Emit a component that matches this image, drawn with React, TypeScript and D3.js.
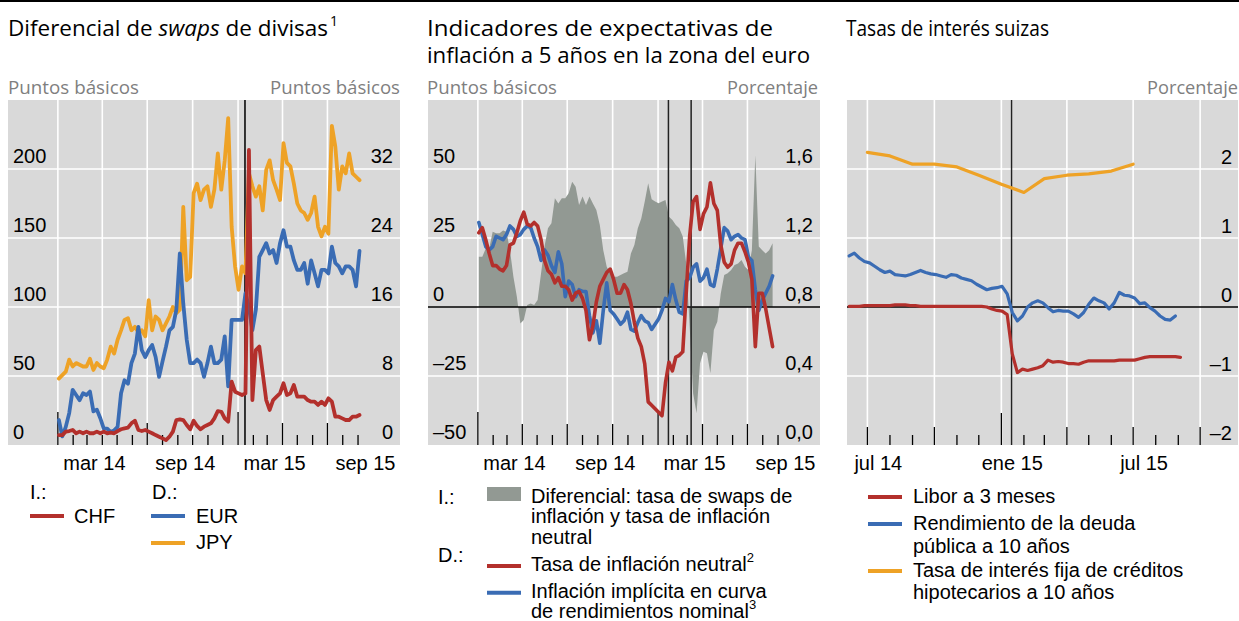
import React from "react";
import * as d3 from "d3";

const parse = (s: string) => d3.utcParse("%Y-%m-%d")(s) as Date;

// ---------------- Panel 1: currency swap differentials (weekly) ----------------
const swapStart = "2014-01-03";
// CHF, basis points, left axis
const chfValues = [
  7.2, 7.2, 9.7, 10.1, 10.9, 8.5, 9.7, 8.5, 9.7, 8.5,
  8.5, 9.7, 8.5, 9.7, 8.5, 8.9, 8.5, 10.1, 11.4, 12.1,
  12.6, 15.7, 17.6, 10.9, 10.1, 10.9, 9.7, 8.5, 7.2, 6.0,
  4.8, 3.6, 6.0, 9.7, 18.1, 18.6, 18.1, 14.5, 11.4, 17.6,
  13.8, 11.4, 13.3, 14.5, 15.7, 19.3, 24.6, 24.1, 19.3, 16.9,
  45.9, 38.6, 37.4, 36.2, 37.4, 213.8, 32.6, 68.8, 71.3, 51.9,
  32.6, 25.4, 32.6, 35.0, 37.4, 44.7, 36.2, 37.4, 43.5, 35.0,
  35.0, 35.0, 32.6, 31.4, 31.4, 29.0, 31.4, 29.0, 33.8, 31.4,
  20.5, 20.5, 19.3, 18.1, 18.1, 20.5, 20.5, 21.7,
];
// EUR, basis points, right axis
const eurValues = [
  2.9, 1.0, 2.1, 3.7, 6.4, 5.8, 5.2, 6.0, 5.8, 6.2,
  3.9, 4.1, 3.1, 1.9, 1.9, 1.5, 1.7, 2.1, 6.0, 7.5,
  7.1, 9.5, 10.6, 13.7, 11.0, 10.2, 11.0, 11.6, 10.2, 7.9,
  9.7, 11.4, 13.3, 13.7, 15.7, 22.2, 16.4, 12.2, 9.5, 9.5,
  9.9, 9.5, 7.9, 9.5, 11.4, 9.5, 9.5, 9.9, 12.6, 6.8,
  14.5, 14.5, 14.5, 14.5, 17.6, 16.0, 13.3, 15.7, 21.8, 22.6,
  23.4, 22.2, 22.6, 21.1, 23.4, 24.9, 23.0, 23.0, 21.4, 20.3,
  20.3, 21.1, 18.7, 21.4, 19.9, 18.4, 20.3, 20.3, 19.9, 23.0,
  21.1, 20.7, 19.9, 20.7, 20.7, 20.3, 18.4, 22.5,
];
// JPY, basis points, right axis
const jpyValues = [
  7.7, 8.1, 8.5, 9.9, 9.1, 9.5, 9.3, 9.1, 9.1, 10.0,
  8.7, 9.5, 9.1, 8.9, 9.9, 11.4, 10.6, 12.2, 13.3, 14.5,
  14.7, 13.3, 13.7, 13.1, 13.3, 12.6, 16.8, 13.3, 14.9, 14.5,
  13.3, 14.1, 14.9, 16.0, 15.3, 15.7, 27.6, 19.1, 19.5, 29.2,
  30.3, 28.4, 29.6, 30.0, 27.6, 29.6, 33.8, 29.6, 33.0, 37.9,
  25.3, 20.7, 18.0, 20.7, 19.9, 31.5, 30.0, 28.8, 30.0, 27.2,
  31.9, 33.0, 30.7, 29.6, 28.4, 35.0, 32.7, 32.3, 30.3, 28.0,
  27.2, 26.9, 26.1, 26.9, 28.8, 25.3, 24.2, 25.3, 24.5, 37.0,
  34.6, 29.6, 32.3, 31.5, 33.8, 31.5, 31.1, 30.7,
];
const p1LeftTicks = [0, 50, 100, 150, 200];
const p1RightTicks = [0, 8, 16, 24, 32];
const p1Event = "2015-01-15";

// ---------------- Panel 2: euro area 5y inflation expectations (weekly) ----------------
const inflStart = "2014-01-03";
// spread, basis points, left axis
const spreadValues = [
  18.2, 18.2, 21.2, 21.2, 27.3, 26.7, 26.7, 27.7, 27.3, 20.6,
  11.0, 3.7, -6.0, -4.7, 0.7, 1.3, 0.7, 2.5, 12.2, 21.9,
  28.5, 30.3, 39.4, 37.5, 39.4, 39.4, 41.2, 45.4, 43.6, 37.0,
  40.0, 37.0, 40.0, 37.5, 35.1, 29.7, 20.6, 14.6, 12.2, 11.0,
  11.0, 11.6, 12.2, 12.8, 19.4, 22.5, 28.5, 32.1, 38.2, 44.8,
  39.0, 38.2, 37.6, 38.2, 38.8, 32.7, 31.5, 29.7, 28.5, 25.5,
  15.8, -7.1, -31.3, -38.5, -20.4, -16.2, -16.8, -24.0, -8.3, -5.3,
  4.9, 11.6, 12.2, 13.4, 15.2, 15.8, 17.0, 14.6, 13.4, 20.6,
  55.0, 21.9, 20.6, 19.4, 20.6, 23.1,
];
// break-even inflation rate, percent, right axis
const neutralValues = [
  1.23, 1.26, 1.19, 1.11, 1.04, 1.04, 1.02, 1.01, 1.04, 1.16,
  1.17, 1.23, 1.30, 1.35, 1.28, 1.27, 1.29, 1.27, 1.19, 1.07,
  1.01, 0.99, 0.94, 0.97, 0.92, 0.92, 0.90, 0.84, 0.88, 0.89,
  0.85, 0.78, 0.61, 0.69, 0.83, 0.92, 0.96, 1.00, 1.02, 0.96,
  0.88, 0.88, 0.93, 0.90, 0.82, 0.71, 0.62, 0.57, 0.47, 0.25,
  0.23, 0.21, 0.19, 0.17, 0.36, 0.48, 0.43, 0.51, 0.52, 0.54,
  0.88, 1.21, 1.41, 1.44, 1.25, 1.34, 1.38, 1.52, 1.40, 1.36,
  1.16, 1.06, 1.03, 1.05, 1.13, 1.17, 1.17, 1.12, 1.06, 0.96,
  0.57, 0.88, 0.88, 0.79, 0.68, 0.57,
];
// implied inflation in nominal yield curve, percent, right axis
const impliedValues = [
  1.29, 1.22, 1.15, 1.13, 1.15, 1.21, 1.20, 1.19, 1.22, 1.27,
  1.25, 1.21, 1.22, 1.25, 1.27, 1.26, 1.20, 1.15, 1.07, 1.13,
  1.10, 1.04, 1.00, 1.12, 1.05, 0.86, 0.95, 0.93, 0.86, 0.90,
  0.89, 0.89, 0.75, 0.65, 0.72, 0.59, 0.78, 0.94, 0.78, 0.76,
  0.73, 0.70, 0.72, 0.77, 0.67, 0.66, 0.71, 0.75, 0.72, 0.71,
  0.67, 0.70, 0.73, 0.78, 0.85, 0.83, 0.93, 0.84, 0.77, 0.76,
  0.95, 0.97, 1.03, 1.05, 0.95, 0.97, 1.02, 0.93, 0.92, 1.02,
  1.14, 1.26, 1.24, 1.19, 1.21, 1.22, 1.20, 1.19, 1.09, 1.07,
  0.90, 0.78, 0.84, 0.88, 0.92, 0.98,
];
const p2LeftTicks = [-50, -25, 0, 25, 50];
const p2RightTicks = [0, 0.4, 0.8, 1.2, 1.6];
const p2Events = ["2015-01-22", "2015-03-09"];

// ---------------- Panel 3: Swiss interest rates ----------------
const swissStart = "2014-06-06";
const liborValues = [
  0.01, 0.01, 0.01, 0.02, 0.02, 0.02, 0.02, 0.02, 0.02, 0.03,
  0.03, 0.03, 0.02, 0.02, 0.01, 0.01, 0.01, 0.01, 0.01, 0.01,
  0.01, 0.01, 0.01, 0.01, 0.01, 0.01, 0.01, 0.00, -0.03, -0.05,
  -0.06, -0.11, -0.68, -0.95, -0.90, -0.92, -0.90, -0.88, -0.85, -0.77,
  -0.80, -0.79, -0.80, -0.82, -0.82, -0.83, -0.80, -0.78, -0.78, -0.78,
  -0.78, -0.78, -0.78, -0.77, -0.77, -0.77, -0.77, -0.75, -0.73, -0.72,
  -0.72, -0.72, -0.72, -0.72, -0.72, -0.73,
];
const yieldValues = [
  0.74, 0.78, 0.71, 0.66, 0.64, 0.59, 0.54, 0.50, 0.52, 0.47,
  0.46, 0.45, 0.47, 0.50, 0.53, 0.50, 0.48, 0.47, 0.45, 0.43,
  0.47, 0.46, 0.42, 0.40, 0.38, 0.33, 0.29, 0.25, 0.27, 0.28,
  0.30, 0.19, -0.08, -0.20, -0.13, 0.00, 0.06, 0.09, 0.06, -0.01,
  -0.07, -0.05, -0.06, -0.06, -0.10, -0.15, -0.08, 0.04, 0.13, 0.09,
  0.06, -0.03, 0.06, 0.21, 0.17, 0.16, 0.13, 0.05, 0.06, -0.01,
  -0.06, -0.13, -0.18, -0.19, -0.13,
];
const mortgageDates = [
  "2014-07-01", "2014-08-01", "2014-09-01", "2014-10-01", "2014-11-01", "2014-12-01",
  "2015-01-01", "2015-02-01", "2015-03-01", "2015-04-01", "2015-05-01", "2015-06-01", "2015-07-01",
];
const mortgageValues = [2.24, 2.19, 2.07, 2.07, 2.03, 1.91, 1.78, 1.66, 1.86, 1.91, 1.93, 1.97, 2.07];
const p3Ticks = [-2, -1, 0, 1, 2];
const p3Event = "2015-01-15";

const p12Labels = ["mar 14", "sep 14", "mar 15", "sep 15"];
const p12LabelDates = ["2014-03-16", "2014-09-16", "2015-03-16", "2015-09-16"];
const p3Labels = ["jul 14", "ene 15", "jul 15"];
const p3LabelDates = ["2014-07-16", "2015-01-16", "2015-07-16"];

// ---------------- styling ----------------
const RED = "#b3302c";
const BLUE = "#3a6cb4";
const ORANGE = "#eea226";
const GREY_AREA = "#929993";
const BG = "#d9d9d9";
const LABEL_GREY = "#7f7f7f";
const FONT = "'Liberation Sans', Arial, sans-serif";
const TFONT = "'Open Sans', sans-serif";

const TOP = 100;
const BOT = 445;

type Pt = { d: Date; v: number };
const weekly = (start: string, vals: number[]): Pt[] =>
  vals.map((v, i) => ({ d: d3.utcDay.offset(parse(start), 7 * i), v }));

const fmtComma = (v: number) => v.toFixed(1).replace(".", ",");
const fmtMinus = (v: number) => (v < 0 ? "\u2013" + Math.abs(v) : String(v));

export default function App() {
  const x12Domain = [parse("2013-09-22"), parse("2015-11-25")];
  const x1 = d3.scaleUtc().domain(x12Domain).range([8, 400]);
  const x2 = d3.scaleUtc().domain(x12Domain).range([428, 820]);
  const x3 = d3.scaleUtc().domain([parse("2014-06-03"), parse("2015-11-22")]).range([847, 1238]);

  const y1L = d3.scaleLinear().domain([0, 250]).range([BOT, TOP]);
  const y1R = d3.scaleLinear().domain([0, 40]).range([BOT, TOP]);
  const y2L = d3.scaleLinear().domain([-50, 75]).range([BOT, TOP]);
  const y2R = d3.scaleLinear().domain([0, 2]).range([BOT, TOP]);
  const y3 = d3.scaleLinear().domain([-2, 3]).range([BOT, TOP]);

  const mkLine = (x: any, y: any) =>
    d3.line<Pt>().x((p) => x(p.d)).y((p) => y(p.v));

  const chf = weekly(swapStart, chfValues);
  const eur = weekly(swapStart, eurValues);
  const jpy = weekly(swapStart, jpyValues);
  const spread = weekly(inflStart, spreadValues);
  const neutral = weekly(inflStart, neutralValues);
  const implied = weekly(inflStart, impliedValues);
  const libor = weekly(swissStart, liborValues);
  const yld = weekly(swissStart, yieldValues);
  const mortgage: Pt[] = mortgageDates.map((s, i) => ({ d: parse(s), v: mortgageValues[i] }));

  const area2 = d3
    .area<Pt>()
    .x((p) => x2(p.d))
    .y0(() => y2L(0))
    .y1((p) => y2L(p.v));

  const months12 = d3.utcMonth.range(parse("2014-01-01"), parse("2015-09-02"));
  const grid12 = d3.utcMonth.every(3)!.range(parse("2014-01-01"), parse("2015-07-02"));
  const months3 = d3.utcMonth.range(parse("2014-07-01"), parse("2015-10-02"));
  const grid3 = d3.utcMonth.every(3)!.range(parse("2014-07-01"), parse("2015-10-02"));

  const tickLen1 = (d: Date) => {
    const m = d.getUTCMonth();
    if (m === 0) return 33;
    if (m === 6 || (m === 3 && d.getUTCFullYear() === 2015)) return 22;
    return 10;
  };
  const tickLen2 = (d: Date) => {
    const m = d.getUTCMonth();
    if (m === 0) return 33;
    if (m % 3 === 0) return 21;
    return 10;
  };
  const tickLen3 = (d: Date) => {
    const m = d.getUTCMonth();
    if (m === 0) return 32;
    if (m % 3 === 0) return 18;
    return 10;
  };

  const bgRect = (x0: number, x1v: number) => (
    <rect x={x0} y={TOP} width={x1v - x0} height={BOT - TOP} fill={BG} />
  );

  const hGrid = (x0: number, x1v: number, ys: number[]) =>
    ys.map((yy, i) => (
      <line key={"hg" + i} x1={x0} x2={x1v} y1={yy} y2={yy} stroke="#fff" strokeWidth={1.6} />
    ));
  const vGrid = (xs: number[]) =>
    xs.map((xx, i) => (
      <line key={"vg" + i} x1={xx} x2={xx} y1={TOP} y2={BOT} stroke="#fff" strokeWidth={1.6} />
    ));
  const ticks = (xs: Date[], x: any, len: (d: Date) => number) =>
    xs.map((d, i) => (
      <line key={"t" + i} x1={x(d)} x2={x(d)} y1={BOT} y2={BOT - len(d)} stroke="#000" strokeWidth={1.3} />
    ));

  const lineProps = { fill: "none", strokeLinejoin: "round" as const, strokeLinecap: "round" as const };

  const swatch = (x: number, y: number, color: string) => (
    <line x1={x} x2={x + 34} y1={y} y2={y} stroke={color} strokeWidth={4} />
  );

  return (
    <svg
      width={1239}
      height={621}
      style={{ position: "absolute", left: 0, top: 0, background: "#fff" }}
      fontFamily={FONT}
    >
      <rect x={0} y={0} width={1239} height={621} fill="#fff" />
      <line x1={0} x2={1239} y1={1} y2={1} stroke="#000" strokeWidth={2} />

      {/* ---------------- Titles ---------------- */}
      <g fontFamily={TFONT} fontSize={22} fill="#000">
        <text x={8} y={36} textLength={320} lengthAdjust="spacingAndGlyphs">
          Diferencial de <tspan fontStyle="italic">swaps</tspan> de divisas
        </text>
        <text x={330} y={26} fontSize={14}>1</text>
        <text x={427} y={36} textLength={346} lengthAdjust="spacingAndGlyphs">
          Indicadores de expectativas de
        </text>
        <text x={427} y={63} textLength={383} lengthAdjust="spacingAndGlyphs">
          inflación a 5 años en la zona del euro
        </text>
        <text x={846} y={36} textLength={203} lengthAdjust="spacingAndGlyphs">
          Tasas de interés suizas
        </text>
      </g>
      <g fontFamily={TFONT} fontSize={18} fill={LABEL_GREY}>
        <text x={8} y={94} textLength={131} lengthAdjust="spacingAndGlyphs">Puntos básicos</text>
        <text x={270} y={94} textLength={130} lengthAdjust="spacingAndGlyphs">Puntos básicos</text>
        <text x={427} y={94} textLength={130} lengthAdjust="spacingAndGlyphs">Puntos básicos</text>
        <text x={727} y={94} textLength={91} lengthAdjust="spacingAndGlyphs">Porcentaje</text>
        <text x={1147} y={94} textLength={91} lengthAdjust="spacingAndGlyphs">Porcentaje</text>
      </g>

      {/* ---------------- Panel 1 ---------------- */}
      <g>
        {bgRect(8, 400)}
        {hGrid(8, 400, p1LeftTicks.filter((t) => t > 0).map((t) => y1L(t)))}
        {vGrid(grid12.map((d) => x1(d)))}
        {ticks(months12, x1, tickLen1)}
        <line x1={x1(parse(p1Event))} x2={x1(parse(p1Event))} y1={TOP} y2={BOT} stroke="#222" strokeWidth={1.8} />
        <path d={mkLine(x1, y1R)(jpy)!} stroke={ORANGE} strokeWidth={3.8} {...lineProps} />
        <path d={mkLine(x1, y1R)(eur)!} stroke={BLUE} strokeWidth={3.8} {...lineProps} />
        <path d={mkLine(x1, y1L)(chf)!} stroke={RED} strokeWidth={3.8} {...lineProps} />
        <g fontSize={20} fill="#000">
          {p1LeftTicks.map((t, i) => (
            <text key={"l" + i} x={13} y={y1L(t) - 6.5}>{t}</text>
          ))}
          {p1RightTicks.map((t, i) => (
            <text key={"r" + i} x={393} y={y1R(t) - 6.5} textAnchor="end">{t}</text>
          ))}
          {p12Labels.map((s, i) => (
            <text key={"x" + i} x={x1(parse(p12LabelDates[i]))} y={470} textAnchor="middle">{s}</text>
          ))}
        </g>
      </g>

      {/* ---------------- Panel 2 ---------------- */}
      <g>
        {bgRect(428, 820)}
        {hGrid(428, 820, p2LeftTicks.filter((t) => t !== 0 && t !== -50).map((t) => y2L(t)))}
        {vGrid(grid12.map((d) => x2(d)))}
        <path d={area2(spread)!} fill={GREY_AREA} />
        {ticks(months12, x2, tickLen2)}
        <line x1={428} x2={820} y1={y2L(0)} y2={y2L(0)} stroke="#000" strokeWidth={1.4} />
        {p2Events.map((s, i) => (
          <line key={"ev" + i} x1={x2(parse(s))} x2={x2(parse(s))} y1={TOP} y2={BOT} stroke="#222" strokeWidth={1.5} />
        ))}
        <path d={mkLine(x2, y2R)(implied)!} stroke={BLUE} strokeWidth={3.6} {...lineProps} />
        <path d={mkLine(x2, y2R)(neutral)!} stroke={RED} strokeWidth={3.6} {...lineProps} />
        <g fontSize={20} fill="#000">
          {p2LeftTicks.map((t, i) => (
            <text key={"l" + i} x={433} y={y2L(t) - 6.5}>{fmtMinus(t)}</text>
          ))}
          {p2RightTicks.map((t, i) => (
            <text key={"r" + i} x={813} y={y2R(t) - 6.5} textAnchor="end">{fmtComma(t)}</text>
          ))}
          {p12Labels.map((s, i) => (
            <text key={"x" + i} x={x2(parse(p12LabelDates[i]))} y={470} textAnchor="middle">{s}</text>
          ))}
        </g>
      </g>

      {/* ---------------- Panel 3 ---------------- */}
      <g>
        {bgRect(847, 1238)}
        {hGrid(847, 1238, p3Ticks.filter((t) => t !== 0 && t !== -2).map((t) => y3(t)))}
        {vGrid(grid3.map((d) => x3(d)))}
        {ticks(months3, x3, tickLen3)}
        <line x1={847} x2={1238} y1={y3(0)} y2={y3(0)} stroke="#000" strokeWidth={1.4} />
        <line x1={x3(parse(p3Event))} x2={x3(parse(p3Event))} y1={TOP} y2={BOT} stroke="#222" strokeWidth={1.4} />
        <path d={mkLine(x3, y3)(libor)!} stroke={RED} strokeWidth={3.2} {...lineProps} />
        <path d={mkLine(x3, y3)(yld)!} stroke={BLUE} strokeWidth={3.2} {...lineProps} />
        <path d={mkLine(x3, y3)(mortgage)!} stroke={ORANGE} strokeWidth={3.2} {...lineProps} />
        <g fontSize={20} fill="#000">
          {p3Ticks.map((t, i) => (
            <text key={"r" + i} x={1232} y={y3(t) - 5.5} textAnchor="end">{fmtMinus(t)}</text>
          ))}
          {p3Labels.map((s, i) => (
            <text key={"x" + i} x={x3(parse(p3LabelDates[i]))} y={470} textAnchor="middle">{s}</text>
          ))}
        </g>
      </g>

      {/* ---------------- Legends ---------------- */}
      <g fontSize={20} fill="#000">
        <text x={30} y={499}>I.:</text>
        <text x={152} y={499}>D.:</text>
        {swatch(30, 516, RED)}
        <text x={74} y={523}>CHF</text>
        {swatch(151, 516, BLUE)}
        <text x={196} y={523}>EUR</text>
        {swatch(151, 543, ORANGE)}
        <text x={196} y={549}>JPY</text>

        <text x={438} y={504}>I.:</text>
        <rect x={487} y={487} width={34} height={14} fill={GREY_AREA} />
        <text x={531} y={502.5}>Diferencial: tasa de swaps de</text>
        <text x={531} y={523.2}>inflación y tasa de inflación</text>
        <text x={531} y={544}>neutral</text>
        <text x={438} y={561.5}>D.:</text>
        {swatch(487, 566, RED)}
        <text x={531} y={571}>
          Tasa de inflación neutral<tspan fontSize={13} dy={-9}>2</tspan>
        </text>
        {swatch(487, 592.7, BLUE)}
        <text x={531} y={598.3}>Inflación implícita en curva</text>
        <text x={531} y={618}>
          de rendimientos nominal<tspan fontSize={13} dy={-9}>3</tspan>
        </text>

        {swatch(868, 497, RED)}
        <text x={913} y={503}>Libor a 3 meses</text>
        {swatch(868, 524, BLUE)}
        <text x={913} y={530}>Rendimiento de la deuda</text>
        <text x={913} y={552.5}>pública a 10 años</text>
        {swatch(868, 571, ORANGE)}
        <text x={913} y={577}>Tasa de interés fija de créditos</text>
        <text x={913} y={599}>hipotecarios a 10 años</text>
      </g>
    </svg>
  );
}
